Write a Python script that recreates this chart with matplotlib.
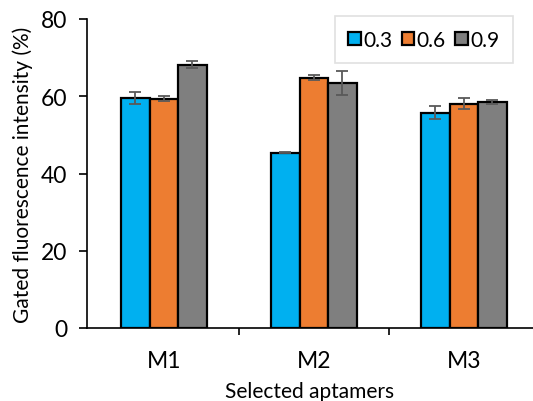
import numpy as np
import matplotlib.pyplot as plt

plt.rcParams['font.family'] = ['Lato', 'DejaVu Sans']

aptamers = ["M1", "M2", "M3"]
series = ["0.3", "0.6", "0.9"]
values = [
    [59.5, 45.4, 55.7],
    [59.4, 64.8, 58.1],
    [68.2, 63.4, 58.5],
]
errors = [
    [1.5, 0.2, 1.7],
    [0.7, 0.7, 1.5],
    [1.0, 3.2, 0.4],
]
colors = ["#00B0F0", "#ED7D31", "#7F7F7F"]

fig = plt.figure(figsize=(5.33, 4.02), dpi=100)
ax = fig.add_axes([87 / 533, 73 / 402, (533 - 87) / 533, 309 / 402])

x = np.arange(len(aptamers))
w = 0.19
for i, s in enumerate(series):
    ax.bar(x + (i - 1) * w, values[i], w, color=colors[i], edgecolor="black",
           linewidth=1.6, label=s, zorder=2,
           yerr=errors[i], error_kw=dict(ecolor="#595959", elinewidth=1.3, capsize=4, capthick=1.3))

ax.set_xlim(-0.513, 2.46)
ax.set_ylim(0, 80)
ax.set_yticks([0, 20, 40, 60, 80])
ax.set_xticks(x)
ax.set_xticklabels(aptamers)
ax.set_xticks([0.5, 1.5], minor=True)
ax.tick_params(axis="x", which="major", length=0, labelsize=16.5, pad=16)
ax.tick_params(axis="x", which="minor", length=5, width=1.2, direction="out")
ax.tick_params(axis="y", length=6, width=1.2, labelsize=16.5, direction="out", pad=8)
for sp in ["top", "right"]:
    ax.spines[sp].set_visible(False)
ax.spines["left"].set_linewidth(1.2)
ax.spines["bottom"].set_linewidth(1.2)

ax.set_xlabel("Selected aptamers", fontsize=15, labelpad=7)
ax.set_ylabel("Gated fluorescence intensity (%)", fontsize=15, labelpad=6)

leg = fig.legend(*ax.get_legend_handles_labels(), ncol=3, loc="upper right",
                 bbox_to_anchor=(513 / 533, 1 - 17 / 402), bbox_transform=fig.transFigure,
                 borderaxespad=0, fontsize=15,
                 frameon=True, fancybox=False, handlelength=0.6, handleheight=0.6,
                 handletextpad=0.12, columnspacing=0.45, borderpad=0.65)
leg.get_frame().set_edgecolor("#D9D9D9")
leg.get_frame().set_linewidth(1.2)

fig.savefig("out.png", dpi=100)
